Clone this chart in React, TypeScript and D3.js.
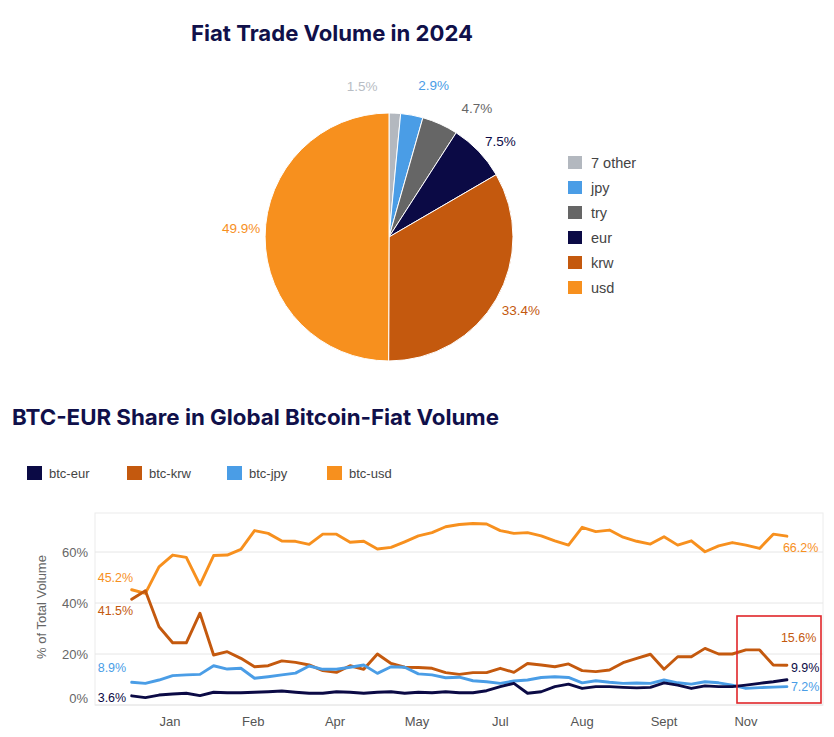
import React from "react";
import * as d3 from "d3";

// ---------- Pie data ----------
const pieCategories = ["7 other", "jpy", "try", "eur", "krw", "usd"];
const pieValues = [1.5, 2.9, 4.7, 7.5, 33.4, 49.9];
const pieColors = ["#b3b8bf", "#4a9de6", "#666666", "#0b0a45", "#c4590e", "#f7901e"];
const pieLabelColors = ["#b8bdc4", "#4a9de6", "#666666", "#0b0a45", "#c4590e", "#f7901e"];
const pieLabelNudge = [[-34, -1], [17, -4], [26, 8], [3, 8], [2, -2], [2, -8]];

// ---------- Line data (weekly share, %) ----------
const lineSeries = ["btc-eur", "btc-krw", "btc-jpy", "btc-usd"];
const lineColors = ["#0b0a45", "#c4590e", "#4a9de6", "#f7901e"];
const eur = [3.6, 2.9, 3.9, 4.3, 4.6, 3.7, 5, 4.8, 4.8, 5, 5.2, 5.5, 5, 4.6, 4.6, 5.2, 5, 4.6, 5, 5.2, 4.6, 5, 4.8, 5.2, 4.8, 4.8, 5.6, 7.2, 8.5, 4.6, 5.2, 7.2, 8.2, 6.5, 7.2, 7.2, 6.9, 6.7, 6.9, 8.7, 7.8, 6.5, 7.5, 7.2, 7.2, 7.8, 8.5, 9.1, 9.9];
const krw = [41.5, 44.8, 30.7, 24.4, 24.4, 36, 19.6, 20.9, 18.3, 15, 15.4, 17.3, 16.7, 15.7, 13.5, 12.8, 15.4, 14, 20, 16.3, 14.8, 14.7, 14.4, 12.7, 12, 12.7, 12.7, 14.4, 12.8, 16.3, 15.7, 15, 16.1, 13.5, 13.1, 13.7, 16.6, 18.3, 19.9, 14, 18.9, 18.9, 22.2, 20, 20, 21.6, 21.6, 15.7, 15.6];
const jpy = [8.9, 8.5, 9.8, 11.5, 11.8, 12, 15.4, 14.1, 14.4, 10.5, 11.1, 11.8, 12.5, 15.3, 14, 14, 14.8, 15.7, 12.4, 15, 14.8, 12.2, 11.8, 10.7, 10.9, 9.5, 9.1, 8.5, 9.4, 9.8, 10.8, 11.1, 10.8, 8.7, 9.5, 8.9, 8.5, 8.6, 8.5, 9.8, 8.7, 8.2, 9.1, 8.7, 7.8, 6.5, 6.8, 7, 7.2];
const usd = [45.2, 43.8, 54.2, 58.8, 57.9, 47.1, 58.6, 58.8, 61, 68.4, 67.3, 64.3, 64.2, 63, 67, 67, 63.8, 64.2, 61.2, 61.8, 64, 66.3, 67.6, 69.9, 70.8, 71.2, 71, 68.4, 67.3, 67.6, 66.3, 64.4, 62.7, 69.7, 68, 68.6, 65.8, 64.2, 63.1, 66, 62.7, 64.4, 60.1, 62.4, 63.7, 62.7, 61.4, 67, 66.2];
const lineData = [eur, krw, jpy, usd];

const xTickLabels = ["Jan", "Feb", "Apr", "May", "Jul", "Aug", "Sept", "Nov"];
const xTickIndex = [2.8, 8.9, 14.9, 20.9, 27, 33, 39, 45];
const yTicks = [0, 20, 40, 60];

const startLabels = ["3.6%", "41.5%", "8.9%", "45.2%"];
const startLabelDy = [2, 12, -14, -12];
const endLabels = ["9.9%", "15.6%", "7.2%", "66.2%"];
const endLabelDx = [4, -6, 4, -4];
const endLabelDy = [-12, -27, 0, 12];

const FONT = "'Liberation Sans', Arial, sans-serif";
const TITLE_FONT = "Inter, 'Open Sans', sans-serif";
const NAVY = "#10104a";

export default function App() {
  // Pie
  const cx = 389, cy = 237, r = 124;
  const pie = d3.pie<number>().sort(null).value((d) => d)(pieValues);
  const arc = d3.arc<d3.PieArcDatum<number>>().innerRadius(0).outerRadius(r);
  const labelArc = d3.arc<d3.PieArcDatum<number>>().innerRadius(150).outerRadius(150);

  // Line chart
  const plotLeft = 95, plotRight = 823, plotTop = 513, plotBottom = 705;
  const x = d3.scaleLinear().domain([0, eur.length - 1]).range([131.7, 786.9]);
  const y = d3.scaleLinear().domain([0, 60]).range([705, 552]);
  const line = d3.line<number>().x((_, i) => x(i)).y((d) => y(d));

  return (
    <svg width={834} height={737} style={{ position: "absolute", left: 0, top: 0, background: "#fff" }}>
      <rect width={834} height={737} fill="#fff" />
      {/* Title 1 */}
      <text x={191} y={41} fontFamily={TITLE_FONT} fontWeight={700} fontSize={22} fill={NAVY}
        textLength={282} lengthAdjust="spacingAndGlyphs">Fiat Trade Volume in 2024</text>

      {/* Pie */}
      <g transform={`translate(${cx},${cy})`}>
        {pie.map((d, i) => (
          <path key={i} d={arc(d) || ""} fill={pieColors[i]} stroke="#fff" strokeWidth={1} />
        ))}
        {pie.map((d, i) => {
          const [lx, ly] = labelArc.centroid(d);
          return (
            <text key={"l" + i} x={lx + pieLabelNudge[i][0]} y={ly + pieLabelNudge[i][1]}
              textAnchor="middle" dominantBaseline="central" fontFamily={FONT} fontSize={13.5}
              fill={pieLabelColors[i]}>{d3.format(".1f")(pieValues[i]) + "%"}</text>
          );
        })}
      </g>

      {/* Pie legend */}
      {pieCategories.map((c, i) => (
        <g key={c} transform={`translate(568,${156 + i * 25})`}>
          <rect width={14} height={13} fill={pieColors[i]} />
          <text x={23} y={6.5} dominantBaseline="central" fontFamily={FONT} fontSize={14.5} fill="#444">{c}</text>
        </g>
      ))}

      {/* Title 2 */}
      <text x={12} y={425} fontFamily={TITLE_FONT} fontWeight={700} fontSize={22} fill={NAVY}
        textLength={487} lengthAdjust="spacingAndGlyphs">BTC-EUR Share in Global Bitcoin-Fiat Volume</text>

      {/* Line legend */}
      {lineSeries.map((s, i) => (
        <g key={s} transform={`translate(${27 + i * 100},466)`}>
          <rect width={15} height={14} fill={lineColors[i]} />
          <text x={22} y={7} dominantBaseline="central" fontFamily={FONT} fontSize={13} fill="#444">{s}</text>
        </g>
      ))}

      {/* Plot frame and grid */}
      <rect x={plotLeft} y={plotTop} width={plotRight - plotLeft} height={plotBottom - plotTop}
        fill="none" stroke="#ececec" strokeWidth={1} />
      {yTicks.map((t) => (
        <g key={t}>
          <line x1={plotLeft} x2={plotRight} y1={y(t)} y2={y(t)} stroke="#e6e6e6" strokeWidth={1} />
          <text x={88} y={Math.min(y(t), 698)} textAnchor="end" dominantBaseline="central"
            fontFamily={FONT} fontSize={13} fill="#666">{t + "%"}</text>
        </g>
      ))}
      <text transform="translate(41,607) rotate(-90)" textAnchor="middle" dominantBaseline="central"
        fontFamily={FONT} fontSize={13} fill="#666">% of Total Volume</text>
      {xTickLabels.map((l, i) => (
        <text key={l} x={x(xTickIndex[i])} y={721} textAnchor="middle" dominantBaseline="central"
          fontFamily={FONT} fontSize={13} fill="#555">{l}</text>
      ))}

      {/* Lines (usd drawn first, eur on top) */}
      {[3, 1, 2, 0].map((si) => (
        <path key={si} d={line(lineData[si]) || ""} fill="none" stroke={lineColors[si]}
          strokeWidth={2.9} strokeLinejoin="round" strokeLinecap="round" />
      ))}

      {/* Start / end labels */}
      {lineData.map((data, si) => (
        <g key={"lab" + si}>
          <text x={97.7} y={y(data[0]) + startLabelDy[si]} dominantBaseline="central"
            fontFamily={FONT} fontSize={12.5} fill={lineColors[si]}>{startLabels[si]}</text>
          <text x={x(data.length - 1) + endLabelDx[si]} y={y(data[data.length - 1]) + endLabelDy[si]}
            dominantBaseline="central" fontFamily={FONT} fontSize={12.5} fill={lineColors[si]}>{endLabels[si]}</text>
        </g>
      ))}

      {/* Highlight box */}
      <rect x={737} y={616} width={84} height={87} fill="none" stroke="#e0262a" strokeWidth={1.6} />
    </svg>
  );
}
